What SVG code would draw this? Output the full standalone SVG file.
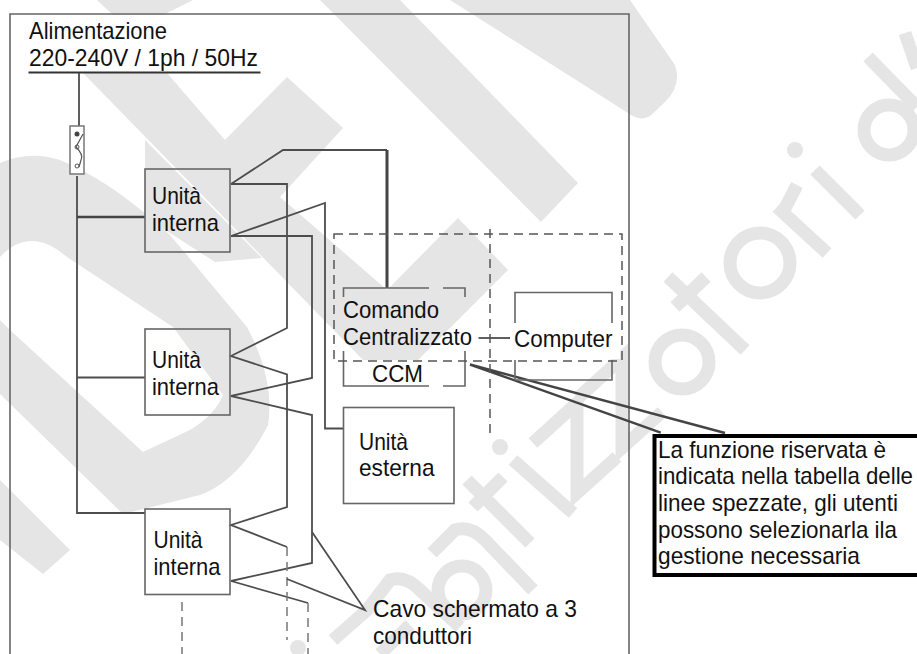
<svg xmlns="http://www.w3.org/2000/svg" width="917" height="654" viewBox="0 0 917 654">
<style>
text{font-family:"Liberation Sans",Arial,sans-serif;font-size:24px;fill:#111}
.wm{fill:#e5e5e5;stroke:none}
.ws{fill:none;stroke:#e5e5e5;stroke-width:13}
.box{fill:none;stroke:#666;stroke-width:1.6}
.w{fill:none;stroke:#4d4d4d;stroke-width:1.8}
.t{fill:none;stroke:#444;stroke-width:2.4}
.d{fill:none;stroke:#777;stroke-width:1.5;stroke-dasharray:9 6}
.dk{fill:none;stroke:#555;stroke-width:1.5;stroke-dasharray:9 6}
</style>
<rect width="917" height="654" fill="#fff"/>
<g id="watermark">
<polygon class="wm" points="97,0 193,0 163,15 113,15"/>
<polygon class="wm" points="83,73 167,73 225,140 287,77 343,128 280,197 387,290 458,218 508,270 418,360 363,360"/>
<path class="wm" d="M320,0H400L578,183 541,222Z"/>
<path class="wm" d="M450,0H630L675,65Q682,85 665,102L650,116Q640,122 628,113Z"/>
<path class="wm" d="M0,163Q30,150 60,160Q110,180 170,235L247,327Q275,380 268,425Q240,480 200,495L123,514L0,394V320L10,330L143,452L190,430Q215,415 223,395L173,327L67,257Q30,225 0,257Z"/>
<polygon class="wm" points="145,140 145,217 215,262 262,258"/>
<polygon class="wm" points="0,480 70,550 43,574 0,540"/>
<path class="ws" d="M868,57L917,107"/>
<circle class="ws" cx="889" cy="130" r="25"/>
<path class="ws" d="M905,33L917,68" stroke-width="10"/>
<path class="ws" d="M815,170L860,215"/>
<circle cx="795" cy="150" r="8" fill="#e5e5e5"/>
<path class="ws" d="M777,207L827,253M783,212L797,185"/>
<circle class="ws" cx="760" cy="263" r="30"/>
<path class="ws" d="M668,277L745,350M675,307L706,277"/>
<circle class="ws" cx="682" cy="362" r="27"/>
<path class="ws" d="M578,398L622,358V448L662,412"/>
<path class="ws" d="M533,443L577,403V493L617,457"/>
<path class="ws" d="M513,460L573,513M467,480L530,543M473,507L503,477"/>
<circle cx="500" cy="447" r="8" fill="#e5e5e5"/>
<path class="ws" d="M432,553L455,530Q470,525 485,540L533,590"/>
<circle class="ws" cx="462" cy="590" r="24"/>
<path class="ws" d="M333,640L367,610L390,580Q405,575 420,590L460,627M380,654L410,625"/>
<circle cx="298" cy="648" r="8" fill="#e5e5e5"/>
</g>
<rect x="80" y="15" width="183" height="58" fill="#fff"/>
<rect x="470" y="327" width="150" height="32" fill="#fff"/>
<polyline class="box" points="10,654 10,14 629,14 629,654"/>
<g id="supply">
<text x="29" y="39" textLength="138" lengthAdjust="spacingAndGlyphs">Alimentazione</text>
<text x="29" y="66" textLength="229" lengthAdjust="spacingAndGlyphs">220-240V / 1ph / 50Hz</text>
<line x1="28.500" y1="72.500" x2="260.500" y2="72.500" stroke="#333" stroke-width="2"/>
</g>
<g id="connectors">
<path class="w" d="M79,73V126"/>
<path class="w" d="M77,176V513H145M77,377.500H145"/>
<path class="t" d="M77,217H145" stroke-width="3"/>
<path class="w" d="M231,184L283,150H387"/>
<path class="t" d="M387,150V288" style="stroke-width:3"/>
<path class="w" d="M231,184H287V328L231,356L287,374.500V507L231,525L287,547"/>
<path class="w" d="M231,236H312V378L231,396L312,415V563L231,581L308,603"/>
<path class="w" d="M231,236L325,203V428.500H344"/>
<path class="d" d="M287,547V640"/>
<path class="d" d="M308,603V654"/>
<path class="d" d="M182,602V654"/>
<path class="w" d="M312,532L365,610L287,579"/>
<path class="w" d="M478.500,338H510"/>
<path class="t" d="M660.700,432.700L470,364.500L725,433"/>
</g>
<g id="switch">
<rect x="70" y="126" width="14" height="48" fill="#fff" stroke="#777" stroke-width="1.500"/>
<circle cx="77" cy="134" r="2.500" fill="#444"/>
<circle cx="77" cy="147" r="2" fill="none" stroke="#555"/>
<circle cx="77" cy="166" r="2" fill="none" stroke="#555"/>
<path d="M83,134L76,147Q84,155 81,160L79,167" fill="none" stroke="#555" stroke-width="1.200"/>
</g>
<g id="unit1">
<rect class="box" x="145" y="169" width="85" height="83"/>
<text x="152" y="204" textLength="49" lengthAdjust="spacingAndGlyphs">Unità</text><text x="152" y="231" textLength="67" lengthAdjust="spacingAndGlyphs">interna</text>
</g>
<g id="unit2">
<rect class="box" x="145" y="329" width="85" height="86"/>
<text x="152" y="368" textLength="49" lengthAdjust="spacingAndGlyphs">Unità</text><text x="152" y="395" textLength="67" lengthAdjust="spacingAndGlyphs">interna</text>
</g>
<g id="unit3">
<rect class="box" x="145" y="509" width="85" height="85.500"/>
<text x="153.500" y="548" textLength="49" lengthAdjust="spacingAndGlyphs">Unità</text><text x="153.500" y="575" textLength="67" lengthAdjust="spacingAndGlyphs">interna</text>
</g>
<g id="ccm">
<path class="box" d="M343.500,297V288H429M443,288H465V297M343.500,351V386H429M443,386H465V351"/>
<text x="343" y="318" textLength="96" lengthAdjust="spacingAndGlyphs">Comando</text>
<text x="343" y="345" textLength="129" lengthAdjust="spacingAndGlyphs">Centralizzato</text>
<text x="372" y="382" textLength="51" lengthAdjust="spacingAndGlyphs">CCM</text>
</g>
<g id="computer">
<path class="box" d="M515,323V292.500H612V323M515,360V380H612V360"/>
<text x="514" y="347" textLength="98.500" lengthAdjust="spacingAndGlyphs">Computer</text>
</g>
<g id="outdoor">
<rect class="box" x="343.500" y="407.500" width="110.500" height="96"/>
<text x="359" y="450" textLength="49" lengthAdjust="spacingAndGlyphs">Unità</text><text x="359" y="476" textLength="75.500" lengthAdjust="spacingAndGlyphs">esterna</text>
</g>
<g id="zones">
<rect class="dk" x="334" y="234" width="288" height="127"/>
<path class="dk" d="M490,229V438"/>
</g>
<g id="cable-label">
<text x="373" y="617" textLength="204" lengthAdjust="spacingAndGlyphs">Cavo schermato a 3</text>
<text x="373" y="644" textLength="99" lengthAdjust="spacingAndGlyphs">conduttori</text>
</g>
<g id="note">
<path d="M925,436H654.500V575H925" fill="#fff" stroke="#000" stroke-width="4"/>
<text x="658" y="458" textLength="228" lengthAdjust="spacingAndGlyphs">La funzione riservata è</text>
<text x="658" y="484" textLength="255" lengthAdjust="spacingAndGlyphs">indicata nella tabella delle</text>
<text x="658" y="511" textLength="240" lengthAdjust="spacingAndGlyphs">linee spezzate, gli utenti</text>
<text x="658" y="538" textLength="239" lengthAdjust="spacingAndGlyphs">possono selezionarla ila</text>
<text x="658" y="564" textLength="202" lengthAdjust="spacingAndGlyphs">gestione necessaria</text>
</g>
</svg>
